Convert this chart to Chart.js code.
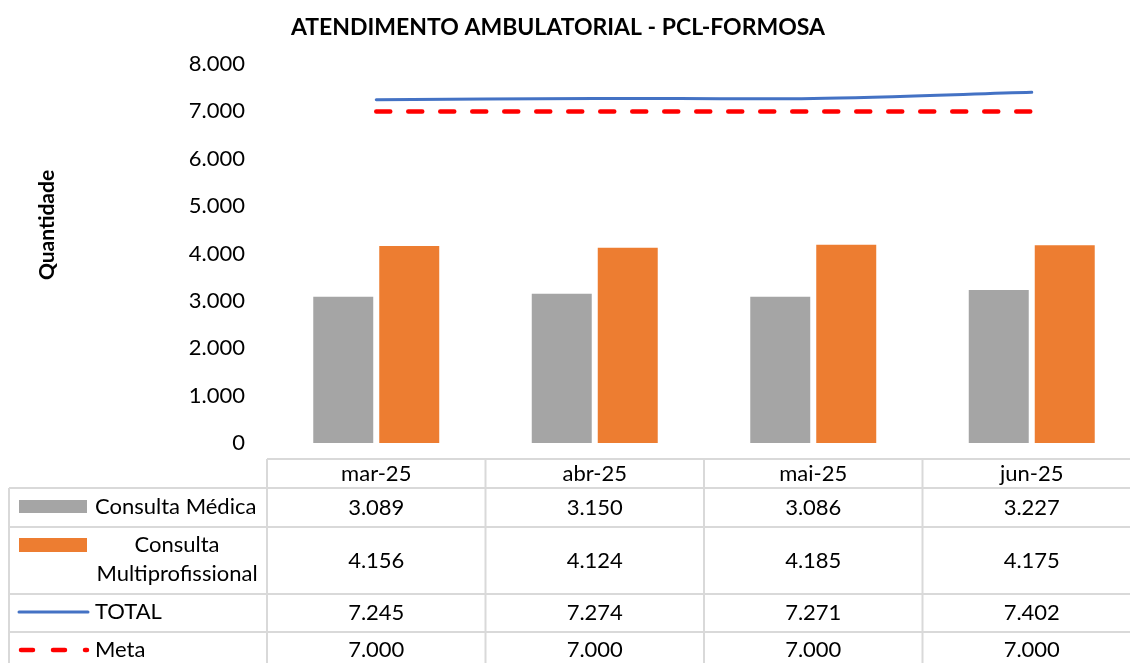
<!DOCTYPE html>
<html>
<head>
<meta charset="utf-8">
<script src="https://cdn.jsdelivr.net/npm/chart.js@4.4.0/dist/chart.umd.min.js"></script>
<style>
  html, body { margin: 0; padding: 0; background: #fff; overflow: hidden; }
  #wrap { position: absolute; left: 0; top: 0; width: 1142px; height: 663px; }
</style>
</head>
<body>
<div id="wrap"><canvas id="chart" width="1142" height="663"></canvas></div>
<script>
// chart data
var months = ['mar-25', 'abr-25', 'mai-25', 'jun-25'];
var consultaMedica = [3089, 3150, 3086, 3227];
var consultaMulti = [4156, 4124, 4185, 4175];
var total = [7245, 7274, 7271, 7402];
var meta = [7000, 7000, 7000, 7000];
var yTicks = [0, 1000, 2000, 3000, 4000, 5000, 6000, 7000, 8000];

var FONT = 'Lato, "Noto Sans", sans-serif';

// 7245 -> "7.245"
function fmt(n) {
    return String(n).replace(/\B(?=(\d{3})+(?!\d))/g, '.');
}

// draws title, axis title and the data table under the plot
var tablePlugin = {
    id: 'dataTable',
    afterDraw: function(chart) {
        var ctx = chart.ctx;
        var area = chart.chartArea;
        var x = chart.scales.x;
        var colW = (area.right - area.left) / months.length;

        ctx.save();
        // title
        ctx.fillStyle = '#000';
        ctx.font = 'bold 23px ' + FONT;
        ctx.textAlign = 'center';
        ctx.textBaseline = 'middle';
        ctx.fillText('ATENDIMENTO AMBULATORIAL - PCL-FORMOSA', 558, 28);

        // y axis title
        ctx.save();
        ctx.translate(47, 225);
        ctx.rotate(-Math.PI / 2);
        ctx.font = 'bold 21px ' + FONT;
        ctx.fillText('Quantidade', 0, 0);
        ctx.restore();

        // table grid
        var rows = [459, 488, 527, 594, 632, 700];
        var left = 9;
        ctx.strokeStyle = '#d9d9d9';
        ctx.lineWidth = 2;
        ctx.beginPath();
        ctx.moveTo(area.left, rows[0]); ctx.lineTo(area.right, rows[0]);
        for (var r = 1; r < rows.length - 1; r++) {
            ctx.moveTo(left, rows[r]); ctx.lineTo(area.right, rows[r]);
        }
        ctx.moveTo(left, rows[1]); ctx.lineTo(left, rows[5]);
        for (var c = 0; c <= months.length; c++) {
            var vx = area.left + c * colW;
            ctx.moveTo(vx, rows[0]); ctx.lineTo(vx, rows[5]);
        }
        ctx.stroke();

        ctx.font = '22px ' + FONT;
        ctx.fillStyle = '#000';
        ctx.textAlign = 'center';
        var series = [consultaMedica, consultaMulti, total, meta];
        for (var i = 0; i < months.length; i++) {
            var cx = x.getPixelForValue(i);
            ctx.fillText(months[i], cx, (rows[0] + rows[1]) / 2);
            for (var s = 0; s < series.length; s++) {
                var cy = s < 3 ? (rows[s + 1] + rows[s + 2]) / 2 : 650;
                ctx.fillText(fmt(series[s][i]), cx, cy);
            }
        }

        // legend keys
        ctx.fillStyle = '#a5a5a5';
        ctx.fillRect(19, 500, 68, 13);
        ctx.fillStyle = '#ed7d31';
        ctx.fillRect(19, 538, 68, 14);

        ctx.strokeStyle = '#4472c4';
        ctx.lineWidth = 3;
        ctx.lineCap = 'round';
        ctx.beginPath(); ctx.moveTo(19, 612); ctx.lineTo(88, 612); ctx.stroke();

        ctx.strokeStyle = '#ff0000';
        ctx.lineWidth = 4.5;
        ctx.setLineDash([12, 20]);
        ctx.beginPath(); ctx.moveTo(21, 650); ctx.lineTo(87, 650); ctx.stroke();
        ctx.setLineDash([]);

        ctx.fillStyle = '#000';
        ctx.textAlign = 'left';
        ctx.fillText('Consulta Médica', 95, 507);
        ctx.fillText('TOTAL', 95, 612);
        ctx.fillText('Meta', 95, 650);
        ctx.textAlign = 'center';
        ctx.fillText('Consulta', 177, 545);
        ctx.fillText('Multiprofissional', 177, 574);
        ctx.restore();
    }
};

var data = {
    labels: months,
    datasets: [
        {
            type: 'line',
            label: 'TOTAL',
            data: total,
            borderColor: '#4472c4',
            borderWidth: 3,
            pointRadius: 0,
            tension: 0.3,
            borderCapStyle: 'round',
            order: 0
        },
        {
            type: 'line',
            label: 'Meta',
            data: meta,
            borderColor: '#ff0000',
            borderWidth: 4.5,
            borderDash: [14, 18],
            borderCapStyle: 'round',
            pointRadius: 0,
            order: 0
        },
        {
            label: 'Consulta Médica',
            data: consultaMedica,
            backgroundColor: '#a5a5a5',
            order: 1
        },
        {
            label: 'Consulta Multiprofissional',
            data: consultaMulti,
            backgroundColor: '#ed7d31',
            order: 1
        }
    ]
};

new Chart(document.getElementById('chart'), {
    type: 'bar',
    data: data,
    options: {
        responsive: false,
        animation: false,
        devicePixelRatio: 1,
        layout: { padding: { top: 64, bottom: 220, left: 0, right: 1 } },
        datasets: {
            bar: { categoryPercentage: 0.604, barPercentage: 0.909 }
        },
        plugins: {
            legend: { display: false },
            title: { display: false },
            tooltip: { enabled: false }
        },
        scales: {
            x: { display: false },
            y: {
                min: 0,
                max: 8000,
                afterBuildTicks: function(scale) {
                    scale.ticks = yTicks.map(function(v) { return { value: v }; });
                },
                afterFit: function(scale) { scale.width = 267; },
                grid: { display: false },
                border: { display: false },
                ticks: {
                    padding: 14,
                    color: '#000',
                    font: { family: FONT, size: 22 },
                    callback: function(v) { return fmt(v); }
                }
            }
        }
    },
    plugins: [tablePlugin]
});
</script>
</body>
</html>
